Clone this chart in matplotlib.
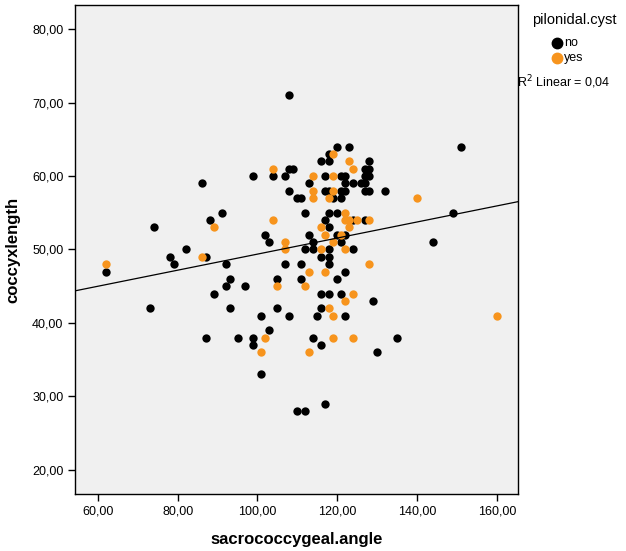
import numpy as np
import matplotlib
matplotlib.use("Agg")
import matplotlib.pyplot as plt
from matplotlib.ticker import FuncFormatter
from matplotlib.lines import Line2D

plt.rcParams['font.family'] = ['Liberation Sans', 'DejaVu Sans']

# pilonidal.cyst = no
no_angle = [62, 74, 73, 78, 79, 82, 87, 86,
            108, 99, 104, 107, 108, 109, 108, 110, 111, 113, 116, 117, 117, 112, 91, 88,
            102, 103, 113, 114, 112, 114, 117, 116, 92, 107, 111, 93, 92, 97, 89, 105,
            111, 116, 93, 105, 101, 108, 115, 116, 103, 87, 95, 99, 99, 101, 114, 116,
            117, 110, 112,
            120, 123, 118, 118, 128, 127, 128, 121, 122, 127, 128, 122, 124, 126, 127,
            118, 121, 122, 127, 128, 132, 119, 121, 118, 120, 124, 127, 118, 120, 122,
            121, 118, 124, 118, 118, 122, 120, 118, 121, 129, 122, 135, 130,
            151, 149, 144]
no_length = [47, 53, 42, 49, 48, 50, 49, 59,
             71, 60, 60, 60, 61, 61, 58, 57, 57, 59, 62, 60, 58, 55, 55, 54,
             52, 51, 52, 51, 50, 50, 54, 49, 48, 48, 48, 46, 45, 45, 44, 46,
             46, 44, 42, 42, 41, 41, 41, 42, 39, 38, 38, 38, 37, 33, 38, 37,
             29, 28, 28,
             64, 64, 63, 62, 62, 61, 61, 60, 60, 60, 60, 59, 59, 59, 59,
             58, 58, 58, 58, 58, 58, 57, 57, 55, 55, 54, 54, 53, 52, 52,
             51, 50, 50, 49, 48, 47, 46, 44, 44, 43, 41, 38, 36,
             64, 55, 51]

# pilonidal.cyst = yes
yes_angle = [62, 86, 104, 114, 114, 114, 89, 104, 107, 107, 116, 116, 117, 105,
             113, 112, 117, 102, 101, 113,
             119, 123, 124, 119, 119, 118, 122, 122, 123, 125, 128, 123, 121, 119,
             122, 128, 124, 122, 118, 119, 119, 124,
             140, 160]
yes_length = [48, 49, 61, 60, 58, 57, 53, 54, 51, 50, 50, 53, 52, 45,
              47, 45, 47, 38, 36, 36,
              63, 62, 61, 60, 58, 57, 55, 54, 54, 54, 54, 53, 52, 51,
              50, 48, 44, 43, 42, 41, 38, 38,
              57, 41]

groups = ['no', 'yes']
group_colors = ['black', '#f7941d']

# linear fit as drawn (R2 = 0,04)
fit_intercept = 38.43
fit_slope = 0.1094
r2_text = "0,04"

fig = plt.figure(figsize=(6.26, 5.51), dpi=100)
ax = fig.add_axes([0.12, 0.1034, 0.7075, 0.8876])
ax.set_facecolor('#f0f0f0')

ax.scatter(no_angle, no_length, s=36, color=group_colors[0], linewidths=0, zorder=3)
ax.scatter(yes_angle, yes_length, s=36, color=group_colors[1], linewidths=0, zorder=4)

xlim = (54.3, 165.3)
xs = np.array(xlim)
ax.plot(xs, fit_intercept + fit_slope * xs, color='black', lw=0.9, zorder=5)

ax.set_xlim(xlim)
ax.set_ylim(16.7, 83.3)
ax.set_xticks([60, 80, 100, 120, 140, 160])
ax.set_yticks([20, 30, 40, 50, 60, 70, 80])
fmt = FuncFormatter(lambda v, p: ("%.2f" % v).replace('.', ','))
ax.xaxis.set_major_formatter(fmt)
ax.yaxis.set_major_formatter(fmt)
ax.tick_params(direction='out', length=5, width=1, labelsize=9, color='black',
               top=False, right=False)
for sp in ax.spines.values():
    sp.set_linewidth(1)

ax.set_xlabel('sacrococcygeal.angle', fontsize=12, fontweight='bold', labelpad=10)
ax.set_ylabel('coccyxlength', fontsize=12, fontweight='bold', labelpad=8)

# legend, placed by hand like the SPSS one
W, H = 626.0, 551.0
fig.text(574 / W, 1 - 20 / H, 'pilonidal.cyst', fontsize=10.5, ha='center', va='center')
for i, (g, c) in enumerate(zip(groups, group_colors)):
    yy = 1 - (43 + 15 * i) / H
    fig.add_artist(Line2D([557 / W], [yy], marker='o', ls='', color=c,
                          markersize=7.5, transform=fig.transFigure))
    fig.text(564 / W, yy, g, fontsize=9, ha='left', va='center')
fig.text(0.826, 1 - 82 / H, 'R$^2$ Linear = ' + r2_text, fontsize=9, ha='left', va='center')

fig.savefig('out.png', dpi=100)
